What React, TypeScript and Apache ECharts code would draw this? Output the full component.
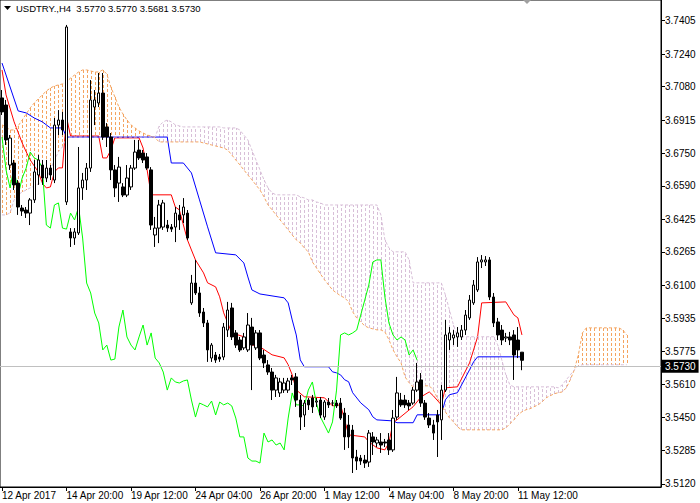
import React, { useEffect, useRef } from "react";
import * as echarts from "echarts";

const symbolTitle = "USDTRY.,H4";
const headerQuote = ["3.5770", "3.5770", "3.5681", "3.5730"];
const lastPrice = 3.573;

const yTicks = [3.7405, 3.724, 3.708, 3.6915, 3.675, 3.659, 3.6425, 3.6265, 3.61, 3.5935, 3.5775, 3.561, 3.545, 3.5285, 3.512];
const xLabelIndex = [0, 16, 32, 48, 64, 80, 96, 112, 128];
const xLabelText = ["12 Apr 2017", "14 Apr 20:00", "19 Apr 12:00", "24 Apr 04:00", "26 Apr 20:00", "1 May 12:00", "4 May 04:00", "8 May 20:00", "11 May 12:00"];
const slotCount = 164;

// [open, close, low, high]
const candles = [
  [3.7024, 3.6955, 3.694, 3.7063], [3.6989, 3.6817, 3.6792, 3.7014], [3.6693, 3.6826, 3.6669, 3.6841], [3.6703, 3.6595, 3.657, 3.6718],
  [3.6604, 3.6486, 3.6447, 3.6619], [3.6481, 3.6466, 3.6442, 3.6496], [3.6471, 3.6456, 3.6432, 3.6486], [3.6456, 3.6521, 3.6397, 3.653],
  [3.6521, 3.6659, 3.6506, 3.6718], [3.6644, 3.6718, 3.6595, 3.6743], [3.6693, 3.6629, 3.6595, 3.6718], [3.6629, 3.6678, 3.6609, 3.6718],
  [3.6678, 3.6644, 3.6619, 3.6693], [3.6619, 3.689, 3.6604, 3.6925], [3.689, 3.6915, 3.6841, 3.6964], [3.6915, 3.6866, 3.6841, 3.6955],
  [3.6511, 3.7374, 3.6496, 3.7384], [3.6363, 3.6333, 3.6289, 3.6382], [3.6333, 3.6363, 3.6299, 3.6382], [3.6358, 3.658, 3.6348, 3.6782],
  [3.658, 3.6619, 3.6521, 3.6654], [3.6619, 3.6678, 3.657, 3.6703], [3.6678, 3.7014, 3.6659, 3.7112], [3.6979, 3.7014, 3.689, 3.7063],
  [3.6999, 3.7048, 3.6979, 3.7147], [3.7048, 3.6831, 3.6817, 3.7147], [3.6881, 3.6831, 3.6782, 3.69], [3.6831, 3.6669, 3.6619, 3.6851],
  [3.6669, 3.658, 3.6535, 3.6693], [3.6604, 3.6683, 3.6511, 3.6733], [3.6585, 3.6545, 3.6535, 3.6604], [3.6545, 3.6629, 3.6535, 3.6693],
  [3.6585, 3.6678, 3.657, 3.6693], [3.6678, 3.6757, 3.6669, 3.6817], [3.6767, 3.6728, 3.6718, 3.6817], [3.6752, 3.6718, 3.6703, 3.6767],
  [3.6733, 3.6678, 3.6669, 3.6752], [3.6669, 3.6397, 3.6373, 3.6683], [3.6348, 3.6382, 3.6289, 3.6437], [3.6382, 3.6496, 3.6308, 3.6521],
  [3.6387, 3.6506, 3.6373, 3.6521], [3.6397, 3.6382, 3.6363, 3.6422], [3.6387, 3.6377, 3.6363, 3.6402], [3.6387, 3.6456, 3.6313, 3.6486],
  [3.6447, 3.6422, 3.6373, 3.6496], [3.6447, 3.6486, 3.6407, 3.653], [3.6456, 3.6333, 3.6323, 3.6471], [3.6013, 3.6111, 3.6003, 3.6151],
  [3.6111, 3.6062, 3.6052, 3.6225], [3.6062, 3.5963, 3.5944, 3.6092], [3.5968, 3.5914, 3.5894, 3.5988], [3.5914, 3.5781, 3.5722, 3.5929],
  [3.5741, 3.5805, 3.5722, 3.5815], [3.5756, 3.5731, 3.5717, 3.5771], [3.5746, 3.5736, 3.5722, 3.5761], [3.5746, 3.5894, 3.5731, 3.5914],
  [3.5879, 3.5978, 3.5845, 3.6018], [3.5988, 3.5845, 3.583, 3.6013], [3.5865, 3.5805, 3.5791, 3.5879], [3.583, 3.5781, 3.5771, 3.5845],
  [3.5791, 3.5845, 3.5781, 3.5865], [3.5781, 3.5904, 3.5771, 3.5963], [3.5894, 3.5805, 3.5583, 3.5939], [3.5791, 3.5865, 3.5781, 3.5879],
  [3.5865, 3.5741, 3.5731, 3.5879], [3.5756, 3.5717, 3.5692, 3.5781], [3.5707, 3.5672, 3.5658, 3.5731], [3.5672, 3.5583, 3.5534, 3.5692],
  [3.5583, 3.5643, 3.5549, 3.5658], [3.5569, 3.5623, 3.5549, 3.5643], [3.5583, 3.5618, 3.5569, 3.5643], [3.5583, 3.5628, 3.5569, 3.5643],
  [3.5643, 3.5633, 3.5608, 3.5658], [3.5648, 3.5534, 3.55, 3.5667], [3.5534, 3.545, 3.5386, 3.5559], [3.546, 3.5519, 3.5401, 3.5534],
  [3.5534, 3.551, 3.5485, 3.5544], [3.5544, 3.55, 3.547, 3.5559], [3.5524, 3.5529, 3.55, 3.5544], [3.5534, 3.546, 3.5445, 3.5549],
  [3.545, 3.5524, 3.5436, 3.5534], [3.5524, 3.551, 3.5495, 3.5544], [3.5519, 3.5519, 3.5505, 3.5534], [3.5519, 3.5505, 3.5495, 3.5534],
  [3.5519, 3.5445, 3.5436, 3.5544], [3.547, 3.5352, 3.5288, 3.5495], [3.5411, 3.5352, 3.5297, 3.546], [3.5386, 3.5248, 3.5174, 3.5411],
  [3.5253, 3.5233, 3.5189, 3.5288], [3.5248, 3.5233, 3.5214, 3.5263], [3.5238, 3.5223, 3.5199, 3.5263], [3.5228, 3.5371, 3.5204, 3.5386],
  [3.5352, 3.5327, 3.5263, 3.5376], [3.5322, 3.5337, 3.5302, 3.5352], [3.5327, 3.5312, 3.5273, 3.5371], [3.5327, 3.5322, 3.5302, 3.5342],
  [3.5337, 3.5288, 3.5263, 3.5371], [3.5288, 3.5445, 3.5278, 3.5485], [3.545, 3.5569, 3.5436, 3.5648], [3.5534, 3.551, 3.55, 3.5569],
  [3.5534, 3.551, 3.5495, 3.5559], [3.5519, 3.5505, 3.5485, 3.5534], [3.5519, 3.5583, 3.551, 3.5598], [3.5583, 3.5623, 3.5574, 3.5717],
  [3.5633, 3.5519, 3.55, 3.5667], [3.5519, 3.545, 3.5436, 3.5534], [3.5445, 3.5411, 3.5396, 3.547], [3.5411, 3.5371, 3.5337, 3.5436],
  [3.546, 3.5426, 3.5253, 3.5485], [3.5436, 3.5583, 3.5337, 3.5608], [3.5583, 3.5855, 3.5574, 3.5929], [3.583, 3.5865, 3.5781, 3.5894],
  [3.584, 3.5855, 3.5805, 3.5879], [3.5845, 3.5865, 3.5796, 3.5894], [3.5845, 3.5879, 3.583, 3.5904], [3.5879, 3.5953, 3.5855, 3.5978],
  [3.5939, 3.6027, 3.5929, 3.6052], [3.6013, 3.6101, 3.6003, 3.6126], [3.6077, 3.6215, 3.6067, 3.6239], [3.6215, 3.6225, 3.6185, 3.6249],
  [3.6215, 3.6225, 3.6195, 3.6244], [3.6225, 3.6042, 3.6027, 3.6239], [3.6042, 3.5914, 3.5894, 3.6062], [3.5919, 3.5855, 3.583, 3.5939],
  [3.5879, 3.583, 3.5805, 3.5904], [3.584, 3.5845, 3.582, 3.5865], [3.5845, 3.583, 3.5805, 3.587], [3.5855, 3.5756, 3.5633, 3.5879],
  [3.583, 3.5781, 3.5741, 3.5894], [3.577, 3.573, 3.5681, 3.577],
];

// Tenkan-sen vertices [bar, price]
const tenkan = [
  [0, 3.7162], [1, 3.7039], [3, 3.6906], [5, 3.6802], [6, 3.6758], [7, 3.6718], [9, 3.6659], [10, 3.6604], [11, 3.658], [12, 3.6585],
  [13, 3.6659], [14, 3.6679], [15, 3.6679], [16, 3.693], [17, 3.6836], [24, 3.6836], [25, 3.6728], [26, 3.6728], [27, 3.6767], [28, 3.6827],
  [34, 3.6827], [35, 3.6777], [36, 3.6669], [37, 3.6546], [42, 3.6546], [43, 3.6486], [44, 3.6472], [46, 3.6324], [47, 3.6274], [48, 3.6225],
  [50, 3.6161], [51, 3.6112], [53, 3.6092], [54, 3.6043], [55, 3.5964], [57, 3.5865], [60, 3.5846], [62, 3.5806], [64, 3.5796], [67, 3.5757],
  [70, 3.5742], [71, 3.5708], [72, 3.5658], [73, 3.5584], [75, 3.555], [80, 3.5545], [82, 3.5505], [84, 3.551], [85, 3.5436], [86, 3.5362],
  [90, 3.5352], [91, 3.5328], [93, 3.5298], [95, 3.5288], [96, 3.5323], [97, 3.5422], [98, 3.5436], [102, 3.5501], [104, 3.555], [106, 3.5574],
  [107, 3.5555], [109, 3.551], [110, 3.5594], [113, 3.5599], [116, 3.5717], [118, 3.5846], [119, 3.6013], [125, 3.6018], [127, 3.5954], [128, 3.5939],
  [129, 3.5855],
];

// Kijun-sen vertices [bar, price]
const kijun = [
  [0, 3.7196], [4, 3.696], [6, 3.695], [8, 3.6925], [10, 3.6906], [12, 3.6876], [15, 3.6876], [16, 3.6831], [41, 3.6831], [42, 3.6703],
  [45, 3.6703], [47, 3.6654], [49, 3.6521], [51, 3.6388], [53, 3.626], [58, 3.625], [60, 3.621], [61, 3.6141], [62, 3.6077], [64, 3.6057],
  [70, 3.6038], [71, 3.6013], [72, 3.5929], [73, 3.5855], [74, 3.5732], [75, 3.5698], [81, 3.5698], [82, 3.5673], [83, 3.5668], [84, 3.5658],
  [85, 3.5634], [86, 3.5624], [87, 3.557], [89, 3.552], [91, 3.5486], [92, 3.5451], [93, 3.5436], [97, 3.5431], [98, 3.5422], [102, 3.5422],
  [103, 3.5461], [109, 3.5461], [110, 3.5535], [111, 3.556], [113, 3.557], [116, 3.5683], [117, 3.5722], [118, 3.5747], [129, 3.5747],
];

// Senkou Span A, one value per bar (bars 0..155)
const spanA = [
  3.6891, 3.6881, 3.6866, 3.6866, 3.6886, 3.6915, 3.6945, 3.6975, 3.6999, 3.7019,
  3.7039, 3.7058, 3.7073, 3.7083, 3.7088, 3.7093, 3.7103, 3.7122, 3.7137, 3.7152,
  3.7162, 3.7162, 3.7157, 3.7152, 3.7152, 3.7162, 3.7142, 3.7078, 3.7029, 3.6979,
  3.6945, 3.6915, 3.6891, 3.6876, 3.6861, 3.6851, 3.6841, 3.6836, 3.6827,
  3.6807, 3.6807, 3.6807, 3.6807, 3.6807, 3.6807, 3.6807, 3.6807, 3.6807, 3.6807,
  3.6807, 3.6802, 3.6797, 3.6792, 3.6787, 3.6782, 3.6777, 3.6767, 3.6743, 3.6718,
  3.6694, 3.6669, 3.6644, 3.662, 3.6595, 3.657, 3.6536, 3.6496, 3.6472, 3.6447,
  3.6422, 3.6398, 3.6373, 3.6348, 3.6324, 3.6309, 3.6284, 3.6265, 3.6215, 3.6186,
  3.6156, 3.6127, 3.6102, 3.6077, 3.6062, 3.6048, 3.6038, 3.6018, 3.5969, 3.5939,
  3.5919, 3.59, 3.589, 3.5885, 3.588, 3.588, 3.587, 3.5831, 3.5782, 3.5747,
  3.5717, 3.5648, 3.5619, 3.5599, 3.5594, 3.5594, 3.5604, 3.5604, 3.5584, 3.5545,
  3.551, 3.5476, 3.5446, 3.5427, 3.5402, 3.5387, 3.5387, 3.5387, 3.5387, 3.5387,
  3.5387, 3.5387, 3.5387, 3.5387, 3.5387, 3.5387, 3.5397, 3.5417, 3.5436, 3.5461,
  3.5476, 3.5486, 3.5491, 3.5501, 3.551, 3.5525, 3.5545, 3.5555, 3.5565, 3.557,
  3.5574, 3.5594, 3.5634, 3.5683, 3.5757, 3.5865, 3.589, 3.589, 3.589, 3.589,
  3.589, 3.589, 3.589, 3.589, 3.589, 3.588, 3.5855,
];

// Senkou Span B, one value per bar (bars 0..155)
const spanB = [
  3.6447, 3.6447, 3.6457, 3.6521, 3.6546, 3.656, 3.657, 3.658, 3.659, 3.66,
  3.661, 3.6629, 3.6669, 3.6718, 3.6758, 3.6782, 3.6831, 3.6831, 3.6831, 3.6831,
  3.6831, 3.6831, 3.6831, 3.6831, 3.6831, 3.6831, 3.6831, 3.6831, 3.6831, 3.6831,
  3.6831, 3.6831, 3.6831, 3.6831, 3.6831, 3.6831, 3.6831, 3.6831, 3.6831,
  3.6886, 3.6906, 3.6915, 3.6906, 3.6891, 3.6886, 3.6881, 3.6881, 3.6881, 3.6881,
  3.6881, 3.6881, 3.6881, 3.6881, 3.6881, 3.6881, 3.6876, 3.6876, 3.6876, 3.6876,
  3.6866, 3.6841, 3.6817, 3.6767, 3.6718, 3.6669, 3.662, 3.658, 3.6556, 3.6546,
  3.6546, 3.6546, 3.6546, 3.6546, 3.6546, 3.6536, 3.6531, 3.6521, 3.6521, 3.6511,
  3.6506, 3.6496, 3.6496, 3.6496, 3.6496, 3.6496, 3.6496, 3.6496, 3.6496, 3.6496,
  3.6496, 3.6496, 3.6496, 3.6496, 3.6496, 3.6447, 3.6324, 3.6284, 3.6265, 3.6265,
  3.6265, 3.6265, 3.6225, 3.6112, 3.6112, 3.6112, 3.6112, 3.6112, 3.6112, 3.6112,
  3.6112, 3.6053, 3.5979, 3.5905, 3.5846, 3.5846, 3.5846, 3.5846, 3.5846, 3.5846,
  3.5846, 3.5846, 3.5846, 3.5846, 3.5806, 3.5732, 3.5658, 3.5609, 3.5599, 3.5599,
  3.5599, 3.5599, 3.5599, 3.5599, 3.5599, 3.5599, 3.5599, 3.5599, 3.5599, 3.5594,
  3.5609, 3.5634, 3.5658, 3.5683, 3.5703, 3.5708, 3.5708, 3.5708, 3.5708, 3.5708,
  3.5708, 3.5708, 3.5708, 3.5708, 3.5708, 3.5708, 3.5708,
];

const chikouShift = 26;
const FONT = "'Liberation Sans', Arial, sans-serif";
const SANDY = "#F4A460";
const THISTLE = "#D8BFD8";

export default function App() {
  const ref = useRef<HTMLDivElement>(null);
  useEffect(() => {
    if (!ref.current) return;
    const chart = echarts.init(ref.current, undefined, { renderer: "svg" });
    const cats = Array.from({ length: slotCount }, (_, i) => String(i));
    const chikou = candles.slice(chikouShift).map((c, i) => [i, c[1]]);
    const cloud = spanA.map((a, i) => [i, a, spanB[i]]);
    const showAt = (i: number) => xLabelIndex.indexOf(i) >= 0;

    chart.setOption({
      animation: false,
      backgroundColor: "#ffffff",
      grid: { left: 0, right: 39, top: 0, bottom: 16, show: true, borderColor: "#000", borderWidth: 1, backgroundColor: "transparent", outerBoundsMode: "none" },
      xAxis: {
        type: "category",
        data: cats,
        boundaryGap: true,
        axisLine: { show: true, lineStyle: { color: "#000", width: 1 } },
        axisTick: { show: true, interval: (i: number) => showAt(i), alignWithLabel: true, length: 4, lineStyle: { color: "#000" } },
        axisLabel: {
          interval: (i: number) => showAt(i),
          formatter: (_v: string, i: number) => { const k = xLabelIndex.indexOf(i); return k >= 0 ? xLabelText[k] : ""; },
          align: "left", fontSize: 10, fontFamily: FONT, color: "#000", margin: 3,
        },
        splitLine: { show: false },
      },
      yAxis: {
        type: "value",
        position: "right",
        min: 3.5105,
        max: 3.7507,
        scale: true,
        axisLine: { show: true, lineStyle: { color: "#000", width: 1 } },
        axisTick: { show: true, length: 4, customValues: yTicks, lineStyle: { color: "#000" } },
        axisLabel: { customValues: yTicks, formatter: (v: number) => v.toFixed(4), fontSize: 10, fontFamily: FONT, color: "#000", margin: 4 },
        splitLine: { show: false },
      },
      graphic: [
        { type: "polygon", shape: { points: [[4, 6], [11, 6], [7.5, 10]] }, style: { fill: "#000" }, z: 100 },
        { type: "text", left: 16, top: 3, style: { text: symbolTitle + "  " + headerQuote.join(" "), font: "9.5px " + FONT, fill: "#000" }, z: 100 },
        { type: "polygon", shape: { points: [[523, 0], [531, 0], [527, 4]] }, style: { fill: "#a0a0a0" }, z: 100 },
      ],
      series: [
        {
          type: "custom",
          name: "cloud",
          data: cloud,
          z: 1,
          silent: true,
          renderItem: (_p: any, api: any) => {
            const i = api.value(0);
            const a = api.value(1);
            const b = api.value(2);
            const pa = api.coord([i, a]);
            const pb = api.coord([i, b]);
            const x = Math.round(pa[0]) + 0.5;
            return {
              type: "line",
              shape: { x1: x, y1: Math.round(pa[1]), x2: x, y2: Math.round(pb[1]) },
              style: { stroke: a >= b ? SANDY : THISTLE, lineWidth: 1, lineDash: [3, 2] },
            };
          },
        },
        { type: "line", name: "tenkan", data: tenkan, showSymbol: false, z: 2, silent: true, lineStyle: { color: "#ff0000", width: 1 } },
        { type: "line", name: "kijun", data: kijun, showSymbol: false, z: 3, silent: true, lineStyle: { color: "#0000ff", width: 1 } },
        { type: "line", name: "spanA", data: spanA, showSymbol: false, z: 4, silent: true, lineStyle: { color: SANDY, width: 1, type: [3, 2] } },
        { type: "line", name: "spanB", data: spanB, showSymbol: false, z: 4, silent: true, lineStyle: { color: THISTLE, width: 1, type: [3, 2] } },
        { type: "line", name: "chikou", data: chikou, showSymbol: false, z: 4, silent: true, lineStyle: { color: "#00ff00", width: 1 } },
        {
          type: "candlestick",
          name: symbolTitle,
          data: candles,
          barWidth: 3,
          z: 5,
          itemStyle: { color: "#ffffff", color0: "#000000", borderColor: "#000000", borderColor0: "#000000", borderWidth: 1 },
          markLine: {
            silent: true,
            symbol: "none",
            data: [{ yAxis: lastPrice }],
            lineStyle: { color: "#c0c0c0", width: 1, type: "solid" },
            label: {
              show: true, position: "end", distance: 1, formatter: () => lastPrice.toFixed(4),
              backgroundColor: "#000", color: "#fff", fontSize: 10, fontFamily: FONT, padding: [2, 3, 1, 3],
            },
          },
        },
      ],
    });
    return () => chart.dispose();
  }, []);
  return <div ref={ref} style={{ position: "fixed", left: 0, top: 0, width: 700, height: 503 }} />;
}
